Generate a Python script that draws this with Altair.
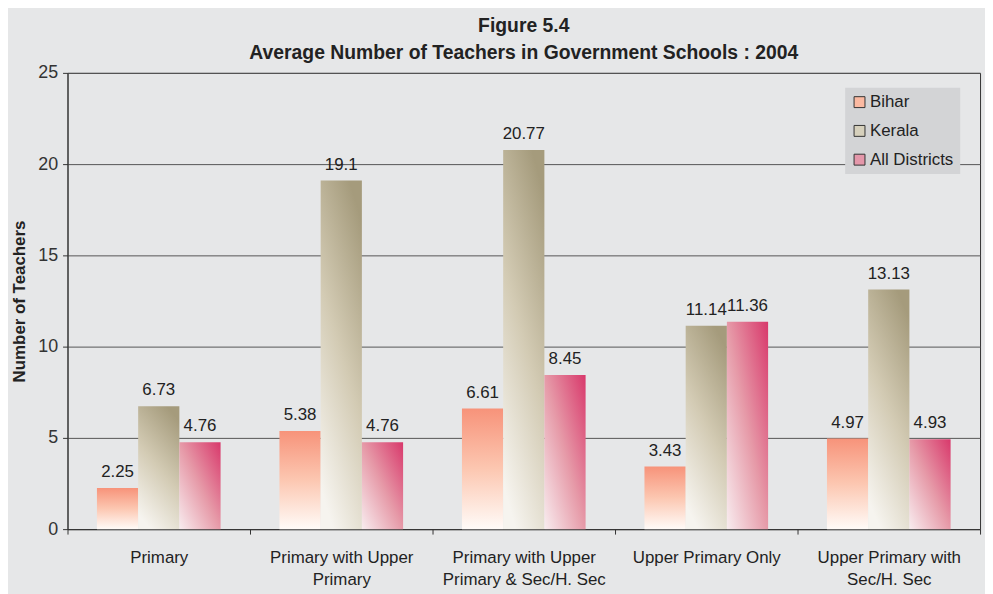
import json
import altair as alt
import pandas as pd

categories = [
    "Primary",
    "Primary with Upper Primary",
    "Primary with Upper Primary & Sec/H. Sec",
    "Upper Primary Only",
    "Upper Primary with Sec/H. Sec",
]
category_lines = [
    ["Primary"],
    ["Primary with Upper", "Primary"],
    ["Primary with Upper", "Primary & Sec/H. Sec"],
    ["Upper Primary Only"],
    ["Upper Primary with", "Sec/H. Sec"],
]
series = ["Bihar", "Kerala", "All Districts"]
bihar = [2.25, 5.38, 6.61, 3.43, 4.97]
kerala = [6.73, 19.1, 20.77, 11.14, 13.13]
all_districts = [4.76, 4.76, 8.45, 11.36, 4.93]
bihar_txt = ["2.25", "5.38", "6.61", "3.43", "4.97"]
kerala_txt = ["6.73", "19.1", "20.77", "11.14", "13.13"]
all_txt = ["4.76", "4.76", "8.45", "11.36", "4.93"]

rows = []
for s, vals, txts in zip(series, [bihar, kerala, all_districts], [bihar_txt, kerala_txt, all_txt]):
    for c, v, t in zip(categories, vals, txts):
        rows.append({"category": c, "series": s, "value": v, "label": t})
df = pd.DataFrame(rows)

# label expression for wrapped category names
expr = "datum.label"
for c, lines in reversed(list(zip(categories, category_lines))):
    expr = f"datum.label == {json.dumps(c)} ? {json.dumps(lines)} : ({expr})"

legend_colors = ["#fbb9a1", "#d6d0bc", "#e497aa"]

gradients = {
    "Bihar": alt.LinearGradient(
        gradient="linear", x1=0, y1=1, x2=0, y2=0,
        stops=[alt.GradientStop(color="#fffbf8", offset=0),
               alt.GradientStop(color="#fcc7b1", offset=0.5),
               alt.GradientStop(color="#f7937a", offset=1)]),
    "Kerala": alt.LinearGradient(
        gradient="linear", x1=0.3, y1=1, x2=0.7, y2=0,
        stops=[alt.GradientStop(color="#f6f4ef", offset=0),
               alt.GradientStop(color="#d3cbb4", offset=0.5),
               alt.GradientStop(color="#a59b7c", offset=1)]),
    "All Districts": alt.LinearGradient(
        gradient="linear", x1=0, y1=1, x2=1, y2=0,
        stops=[alt.GradientStop(color="#f8ecef", offset=0),
               alt.GradientStop(color="#e69aa8", offset=0.5),
               alt.GradientStop(color="#d8386b", offset=1)]),
}

x_enc = alt.X(
    "category:N",
    sort=categories,
    scale=alt.Scale(domain=categories, paddingInner=0, paddingOuter=0),
    axis=alt.Axis(
        title=None,
        labelAngle=0,
        labelExpr=expr,
        labelFontSize=17,
        labelColor="#222222",
        labelPadding=16,
        labelLineHeight=22,
        labelBaseline="top",
        tickBand="extent",
        tickSize=5,
        tickColor="#333333",
        domainColor="#333333",
        grid=False,
    ),
)
xoff_enc = alt.XOffset(
    "series:N",
    sort=series,
    scale=alt.Scale(domain=series, paddingInner=0, paddingOuter=0.714),
)
y_enc = alt.Y(
    "value:Q",
    scale=alt.Scale(domain=[0, 25], nice=False),
    axis=alt.Axis(
        title="Number of Teachers",
        titleFontSize=17,
        titleFontWeight="bold",
        titleColor="#222222",
        titlePadding=9,
        values=[0, 5, 10, 15, 20, 25],
        labelFontSize=18,
        labelColor="#333333",
        labelPadding=5,
        tickSize=5,
        tickColor="#333333",
        domainColor="#333333",
        gridColor="#555555",
        gridWidth=1,
    ),
)

base = alt.Chart(df)

bar_layers = []
for s in series:
    bar_layers.append(
        base.transform_filter(alt.datum.series == s)
        .mark_bar(fill=gradients[s], strokeWidth=0)
        .encode(x=x_enc, xOffset=xoff_enc, y=y_enc)
    )

text_layer = base.mark_text(
    baseline="alphabetic", dy=-11, fontSize=17, color="#222222", font="Liberation Sans"
).encode(x=x_enc, xOffset=xoff_enc, y=y_enc, text="label:N")

legend_layer = (
    base.transform_filter("datum.value < 0")
    .mark_square(opacity=1)
    .encode(
        x=x_enc,
        y=y_enc,
        color=alt.Color(
            "series:N",
            scale=alt.Scale(domain=series, range=legend_colors),
            legend=alt.Legend(
                title=None,
                orient="none",
                legendX=784,
                legendY=15,
                fillColor="#d3d4d6",
                padding=6,
                labelFontSize=17,
                labelColor="#222222",
                symbolType="square",
                symbolSize=121,
                symbolStrokeColor="#333333",
                symbolStrokeWidth=1,
                symbolOpacity=1,
                rowPadding=11,
                labelOffset=2,
            ),
        ),
    )
)

chart = (
    alt.layer(*bar_layers, text_layer, legend_layer)
    .properties(
        width=920,
        height=460,
        autosize=alt.AutoSizeParams(type="none"),
        padding={"left": 60, "top": 63, "right": 5, "bottom": 63},
        title=alt.Title(
            ["Figure 5.4", "Average Number of Teachers in Government Schools : 2004"],
            fontSize=19.5,
            fontWeight="bold",
            color="#222222",
            lineHeight=28,
            anchor="middle",
            offset=0,
        ),
    )
    .configure(background="#e6e7e8", font="Liberation Sans")
    .configure_view(stroke="#333333", strokeWidth=1)
)

chart.save("out.html", embed_options={"renderer": "svg", "actions": False})
